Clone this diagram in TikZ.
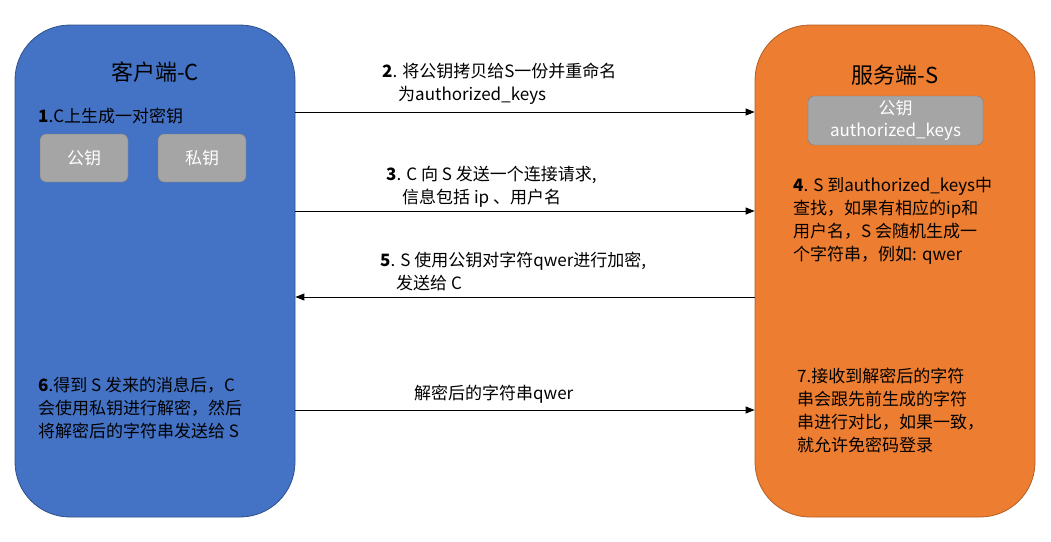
\documentclass[tikz,border=0pt]{standalone}
\usepackage{fontspec}
\setmainfont{Noto Sans CJK SC}
\usetikzlibrary{arrows.meta,positioning}
\definecolor{cliblue}{HTML}{4472C4}
\definecolor{srvorange}{HTML}{ED7D31}
\definecolor{keygray}{HTML}{A5A5A5}

\begin{document}
\begin{tikzpicture}[x=1pt,y=-1pt,>={Triangle[length=9pt,width=7pt]},
  party/.style={draw,line width=0.8pt,rounded corners=55pt,minimum width=280pt,minimum height=492pt},
  keybox/.style={draw=keygray!75!black,fill=keygray,rounded corners=6pt,text=white,
    font=\fontsize{17}{23}\selectfont,align=center},
  note/.style={font=\fontsize{17}{23}\selectfont,align=left,inner sep=0pt,anchor=west},
  title/.style={font=\fontsize{22}{26}\selectfont},
  msg/.style={->,line width=0.9pt}]
  \useasboundingbox (0,0) rectangle (1051,541);
  % ---- the two parties ----
  \node[party,fill=cliblue,draw=cliblue!70!black] (client) at (155,271) {};
  \node[party,fill=srvorange,draw=srvorange!75!black] (server) at (895,271) {};
  \node[title] (cltitle) at (155,72) {客户端-C};
  \node[title] (srvtitle) at (895,75) {服务端-S};
  % client side
  \node[note] (step1) at (38,116) {\textbf{1}.C上生成一对密钥};
  \node[keybox,minimum width=88pt,minimum height=48pt] (pubkey) at (84,158) {公钥};
  \node[keybox,minimum width=88pt,minimum height=48pt] (privkey) at (202,158) {私钥};
  \node[note] (step6) at (38,408) {\textbf{6}.得到 S 发来的消息后，C\\会使用私钥进行解密，然后\\将解密后的字符串发送给 S};
  % server side
  \node[keybox,minimum width=175pt,minimum height=49pt,inner sep=0pt] (srvkey) at (895.5,120.5)
    {公钥\\[-1pt]authorized\_keys};
  \node[note] (step4) at (793,220.5) {\textbf{4}. S 到authorized\_keys中\\查找，如果有相应的ip和\\用户名，S 会随机生成一\\个字符串，例如: qwer};
  \node[note] (step7) at (797,410) {7.接收到解密后的字符\\串会跟先前生成的字符\\串进行对比，如果一致，\\就允许免密码登录};
  % ---- messages ----
  \coordinate (m2) at (0,112);
  \coordinate (m3) at (0,211);
  \coordinate (m5) at (0,297);
  \coordinate (m6) at (0,410);
  \draw[msg] (client.east |- m2) -- (server.west |- m2);
  \draw[msg] (client.east |- m3) -- (server.west |- m3);
  \draw[msg] (server.west |- m5) -- (client.east |- m5);
  \draw[msg] (client.east |- m6) -- (server.west |- m6);
  \node[note] (step2) at (382,83.5) {\textbf{2}. 将公钥拷贝给S一份并重命名\\\hspace*{16pt}为authorized\_keys};
  \node[note] (step3) at (386,186.5) {\textbf{3}. C 向 S 发送一个连接请求,\\\hspace*{16pt}信息包括 ip 、用户名};
  \node[note] (step5) at (380,271.5) {\textbf{5}. S 使用公钥对字符qwer进行加密,\\\hspace*{16pt}发送给 C};
  \node[note] (decmsg) at (414,394) {解密后的字符串qwer};
\end{tikzpicture}
\end{document}
